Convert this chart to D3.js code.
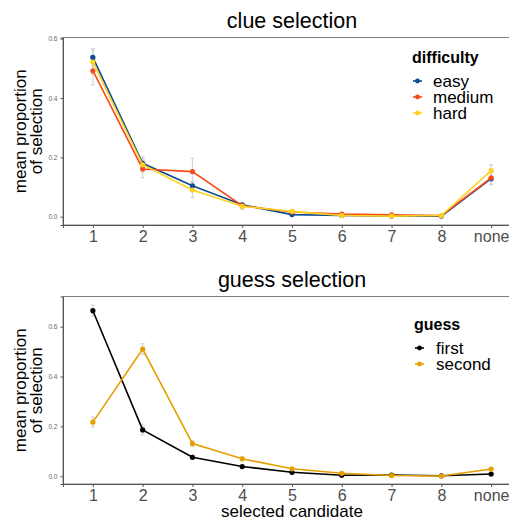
<!DOCTYPE html>
<html>
<head>
<meta charset="utf-8">
<script src="https://cdn.jsdelivr.net/npm/d3@7"></script>
<style>
  body { margin: 0; background: #fff; }
  svg { font-family: "Liberation Sans", Arial, sans-serif; display: block; }
</style>
</head>
<body>
<div id="chart"></div>
<script>
// candidates on the x axis
var candidates = ["1", "2", "3", "4", "5", "6", "7", "8", "none"];

// clue selection by difficulty
var difficultyNames = ["easy", "medium", "hard"];
var difficultyColors = ["#0d4a8e", "#f94a1c", "#ffd21c"];
var easyMean   = [0.537, 0.180, 0.104, 0.040, 0.007, 0.004, 0.002, 0.002, 0.128];
var easySe     = [0.030, 0.020, 0.015, 0.008, 0.003, 0.002, 0.001, 0.001, 0.020];
var mediumMean = [0.492, 0.161, 0.152, 0.037, 0.016, 0.009, 0.006, 0.004, 0.131];
var mediumSe   = [0.048, 0.030, 0.045, 0.010, 0.004, 0.003, 0.002, 0.002, 0.022];
var hardMean   = [0.521, 0.175, 0.090, 0.035, 0.018, 0.004, 0.002, 0.004, 0.155];
var hardSe     = [0.040, 0.025, 0.025, 0.010, 0.006, 0.002, 0.001, 0.002, 0.020];
var clueTicks  = [0, 0.2, 0.4, 0.6];

// guess selection by guess number
var guessNames = ["first", "second"];
var guessColors = ["#000000", "#e69f00"];
var firstMean  = [0.664, 0.186, 0.076, 0.039, 0.016, 0.004, 0.005, 0.002, 0.009];
var firstSe    = [0.022, 0.020, 0.008, 0.005, 0.003, 0.002, 0.002, 0.001, 0.003];
var secondMean = [0.217, 0.510, 0.131, 0.070, 0.030, 0.012, 0.003, 0.001, 0.029];
var secondSe   = [0.020, 0.022, 0.012, 0.008, 0.005, 0.003, 0.002, 0.001, 0.005];
var guessTicks = [0, 0.2, 0.4, 0.6];

var W = 509, H = 520;
var svg = d3.select("#chart").append("svg")
    .attr("width", W).attr("height", H);

function makeSeries(names, colors, means, ses) {
    return names.map(function(n, i) {
        return {
            name: n, color: colors[i],
            values: candidates.map(function(c, j) {
                return { x: c, y: means[i][j], se: ses[i][j] };
            })
        };
    });
}

function drawPanel(opt) {
    var left = 63, right = 521;
    var top = opt.top, bottom = opt.bottom;

    var x = d3.scalePoint().domain(candidates).range([left, right]).padding(0.6);
    var y = d3.scaleLinear().domain(opt.yDomain).range([bottom, top]);

    var g = svg.append("g");

    // panel border
    g.append("rect")
        .attr("x", left).attr("y", top)
        .attr("width", right - left).attr("height", bottom - top)
        .attr("fill", "none").attr("stroke", "#7f7f7f").attr("stroke-width", 1);

    // axes
    var yAxis = g.append("g")
        .attr("transform", "translate(" + left + ",0)")
        .call(d3.axisLeft(y).tickValues(opt.ticks).tickFormat(d3.format(".1f")).tickSize(2.5).tickPadding(3));
    yAxis.select(".domain").attr("stroke", "#555").attr("stroke-width", 1);
    yAxis.selectAll(".tick line").attr("stroke", "#555");
    yAxis.selectAll("text").attr("font-size", "6.5px").attr("fill", "#666")
        .attr("font-family", "Liberation Sans, Arial, sans-serif");

    var xAxis = g.append("g")
        .attr("transform", "translate(0," + bottom + ")")
        .call(d3.axisBottom(x).tickSize(3).tickPadding(3));
    xAxis.select(".domain").attr("stroke", "#555").attr("stroke-width", 1);
    xAxis.selectAll(".tick line").attr("stroke", "#555");
    xAxis.selectAll("text").attr("font-size", "16px").attr("fill", "#4d4d4d")
        .attr("font-family", "Liberation Sans, Arial, sans-serif");

    // title
    svg.append("text")
        .attr("x", (left + right) / 2).attr("y", opt.titleY)
        .attr("text-anchor", "middle").attr("font-size", "21.5px").attr("fill", "#000")
        .text(opt.title);

    // y axis title
    var cy = (top + bottom) / 2;
    var yt = svg.append("text")
        .attr("transform", "translate(26," + cy + ") rotate(-90)")
        .attr("text-anchor", "middle").attr("font-size", "17px").attr("fill", "#000");
    yt.append("tspan").attr("x", 0).attr("y", 0).text("mean proportion");
    yt.append("tspan").attr("x", 0).attr("y", 16).text("of selection");

    // error bars
    opt.series.forEach(function(s) {
        var eb = g.append("g").attr("stroke", "#cccccc").attr("stroke-width", 1.2).attr("opacity", 0.8);
        s.values.forEach(function(d) {
            eb.append("line")
                .attr("x1", x(d.x)).attr("x2", x(d.x))
                .attr("y1", y(d.y - d.se)).attr("y2", y(d.y + d.se));
            eb.append("line")
                .attr("x1", x(d.x) - 2).attr("x2", x(d.x) + 2)
                .attr("y1", y(d.y - d.se)).attr("y2", y(d.y - d.se));
            eb.append("line")
                .attr("x1", x(d.x) - 2).attr("x2", x(d.x) + 2)
                .attr("y1", y(d.y + d.se)).attr("y2", y(d.y + d.se));
        });
    });

    var line = d3.line().x(function(d) { return x(d.x); }).y(function(d) { return y(d.y); });

    opt.series.forEach(function(s) {
        g.append("path")
            .datum(s.values)
            .attr("d", line)
            .attr("fill", "none").attr("stroke", s.color).attr("stroke-width", 1.6);
        g.selectAll(null).data(s.values).enter().append("circle")
            .attr("cx", function(d) { return x(d.x); })
            .attr("cy", function(d) { return y(d.y); })
            .attr("r", 2.6).attr("fill", s.color);
    });

    // legend
    var lg = svg.append("g");
    lg.append("text")
        .attr("x", opt.legendX).attr("y", opt.legendY)
        .attr("font-size", "16px").attr("font-weight", "bold").attr("fill", "#000")
        .text(opt.legendTitle);
    opt.series.forEach(function(s, i) {
        var ky = opt.legendY + 18 + i * 16;
        lg.append("line")
            .attr("x1", opt.legendX + 1).attr("x2", opt.legendX + 10)
            .attr("y1", ky).attr("y2", ky)
            .attr("stroke", s.color).attr("stroke-width", 1.6);
        lg.append("circle")
            .attr("cx", opt.legendX + 5.5).attr("cy", ky).attr("r", 2.4).attr("fill", s.color);
        lg.append("text")
            .attr("x", opt.legendX + opt.textOff).attr("y", ky + 6)
            .attr("font-size", "17px").attr("fill", "#000")
            .text(s.name);
    });
}

drawPanel({
    top: 37.5, bottom: 225,
    yDomain: [-0.028, 0.604],
    ticks: clueTicks,
    title: "clue selection", titleY: 28,
    series: makeSeries(difficultyNames, difficultyColors,
        [easyMean, mediumMean, hardMean], [easySe, mediumSe, hardSe]),
    legendTitle: "difficulty", legendX: 412, legendY: 63, textOff: 21
});

drawPanel({
    top: 296.5, bottom: 484,
    yDomain: [-0.031, 0.721],
    ticks: guessTicks,
    title: "guess selection", titleY: 287,
    series: makeSeries(guessNames, guessColors,
        [firstMean, secondMean], [firstSe, secondSe]),
    legendTitle: "guess", legendX: 414, legendY: 330, textOff: 22
});

svg.append("text")
    .attr("x", 292).attr("y", 517)
    .attr("text-anchor", "middle").attr("font-size", "17px").attr("fill", "#000")
    .text("selected candidate");
</script>
</body>
</html>
